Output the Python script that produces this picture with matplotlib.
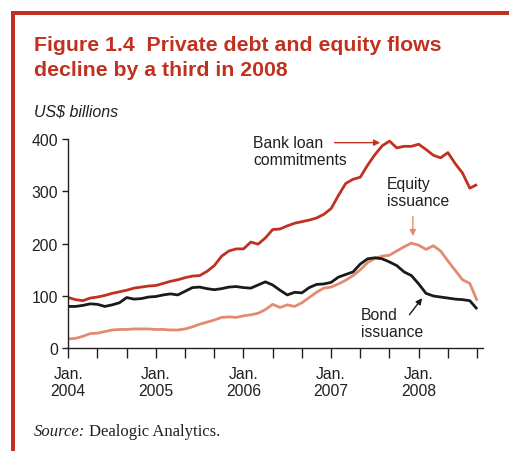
import numpy as np
import matplotlib
matplotlib.use('Agg')
import matplotlib.pyplot as plt
from matplotlib.patches import Rectangle

# Monthly values, Jan. 2004 to Sep. 2008 (US$ billions)
bank_loans = [97, 93, 91, 96, 98, 101, 105, 108, 111, 115, 117, 119,
              120, 124, 128, 131, 135, 138, 139, 147, 158, 176, 186, 190,
              190, 203, 199, 211, 227, 228, 234, 239, 242, 245, 249, 256,
              267, 292, 315, 323, 327, 350, 370, 387, 396, 383, 386, 386,
              390, 380, 369, 364, 374, 353, 335, 306, 313]
bonds = [80, 80, 82, 85, 84, 80, 83, 87, 97, 94, 95, 98,
         99, 102, 104, 102, 109, 116, 117, 114, 112, 114, 117, 118,
         116, 115, 121, 127, 121, 111, 102, 107, 106, 116, 122, 123,
         126, 136, 141, 146, 161, 171, 173, 171, 165, 158, 146, 139,
         123, 105, 100, 98, 96, 94, 93, 91, 75]
equity = [18, 19, 23, 28, 29, 32, 35, 36, 36, 37, 37, 37,
          36, 36, 35, 35, 37, 41, 46, 50, 54, 59, 60, 59,
          62, 64, 67, 74, 84, 78, 83, 80, 87, 97, 107, 115,
          117, 123, 130, 139, 150, 164, 172, 176, 178, 186, 194, 201,
          197, 189, 196, 186, 167, 149, 131, 124, 91]
year_labels = ['Jan.\n2004', 'Jan.\n2005', 'Jan.\n2006', 'Jan.\n2007', 'Jan.\n2008']

red = '#c1311f'
salmon = '#e28b70'
ink = '#231f20'
plt.rcParams['font.family'] = ['Liberation Sans', 'DejaVu Sans']

W, H = 509, 452
fig = plt.figure(figsize=(W / 100, H / 100), dpi=100)

# red frame on top and left
fig.add_artist(Rectangle((11 / W, 0), 4 / W, 1 - 12 / H, transform=fig.transFigure,
                         color=red, lw=0))
fig.add_artist(Rectangle((11 / W, 1 - 16 / H), 1, 4 / H, transform=fig.transFigure,
                         color=red, lw=0))

fig.text(34 / W, 1 - 51 / H, 'Figure 1.4  Private debt and equity flows',
         color=red, fontsize=15.3, fontweight='bold', va='baseline', ha='left')
fig.text(34 / W, 1 - 75.5 / H, 'decline by a third in 2008',
         color=red, fontsize=15.3, fontweight='bold', va='baseline', ha='left')
fig.text(34 / W, 1 - 116.5 / H, 'US$ billions', color=ink, fontsize=11.5, style='italic',
         va='baseline', ha='left')
fig.text(34 / W, 1 - 436.5 / H, 'Source:', color=ink, fontsize=12, style='italic',
         family='Liberation Serif', va='baseline', ha='left')
fig.text(89 / W, 1 - 436.5 / H, 'Dealogic Analytics.', color=ink, fontsize=12,
         family='Liberation Serif', va='baseline', ha='left')

ax = fig.add_axes([68.3 / W, 1 - 349.3 / H, (483.3 - 68.3) / W, (349.3 - 140) / H])
months = np.arange(len(bank_loans))
ax.plot(months, equity, color=salmon, lw=2.0, solid_capstyle='butt')
ax.plot(months, bonds, color='#1a1a1a', lw=2.0, solid_capstyle='butt')
ax.plot(months, bank_loans, color=red, lw=2.0, solid_capstyle='butt')

ax.set_xlim(0, 56.85)
ax.set_ylim(0, 400)
ax.set_yticks([0, 100, 200, 300, 400])
ax.set_xticks(np.arange(0, 57, 4))
ax.set_xticklabels([year_labels[i // 3] if i % 3 == 0 else '' for i in range(15)])
for s in ['top', 'right']:
    ax.spines[s].set_visible(False)
for s in ['left', 'bottom']:
    ax.spines[s].set_color(ink)
    ax.spines[s].set_linewidth(1.0)
ax.tick_params(axis='y', direction='out', length=4.5, width=1, colors=ink, labelsize=11.3, pad=3)
ax.tick_params(axis='x', direction='out', length=7.5, width=1, colors=ink, labelsize=11.3, pad=5)
ax.patch.set_alpha(0)

ax.annotate('', xy=(43.1, 393), xytext=(36.1, 393),
            arrowprops=dict(arrowstyle='-|>', color=red, lw=1.0, mutation_scale=9))
ax.text(25.3, 377, 'Bank loan\ncommitments', color=ink, fontsize=11.3, va='center',
        ha='left', linespacing=1.2)
ax.annotate('', xy=(47.2, 209), xytext=(47.2, 257),
            arrowprops=dict(arrowstyle='-|>', color=salmon, lw=1.0, mutation_scale=9))
ax.text(43.6, 299, 'Equity\nissuance', color=ink, fontsize=11.3, va='center',
        ha='left', linespacing=1.2)
ax.annotate('', xy=(48.7, 100), xytext=(46.5, 60),
            arrowprops=dict(arrowstyle='-|>', color='#1a1a1a', lw=1.0, mutation_scale=9))
ax.text(40.1, 48, 'Bond\nissuance', color=ink, fontsize=11.3, va='center',
        ha='left', linespacing=1.2)

fig.savefig('out.png', dpi=100)
